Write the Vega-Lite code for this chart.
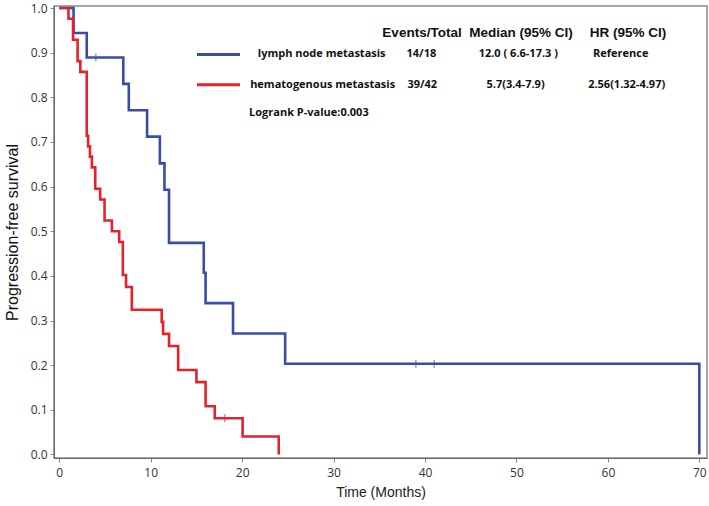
{
  "$schema": "https://vega.github.io/schema/vega-lite/v6.json",
  "width": 653,
  "height": 452,
  "autosize": {"type": "none"},
  "padding": {"left": 54, "top": 6, "right": 2, "bottom": 48},
  "background": "white",
  "config": {
    "view": {"stroke": "#8a8a8a", "strokeWidth": 1.5},
    "font": "Open Sans"
  },
  "datasets": {
    "curves": [
      {"group": "lymph node metastasis", "t": 0, "s": 1.0},
      {"group": "lymph node metastasis", "t": 1.56, "s": 0.944},
      {"group": "lymph node metastasis", "t": 3.0, "s": 0.889},
      {"group": "lymph node metastasis", "t": 7.0, "s": 0.830},
      {"group": "lymph node metastasis", "t": 7.6, "s": 0.771},
      {"group": "lymph node metastasis", "t": 9.6, "s": 0.712},
      {"group": "lymph node metastasis", "t": 11.0, "s": 0.652},
      {"group": "lymph node metastasis", "t": 11.5, "s": 0.593},
      {"group": "lymph node metastasis", "t": 12.0, "s": 0.474},
      {"group": "lymph node metastasis", "t": 15.8, "s": 0.407},
      {"group": "lymph node metastasis", "t": 16.0, "s": 0.339},
      {"group": "lymph node metastasis", "t": 19.0, "s": 0.271},
      {"group": "lymph node metastasis", "t": 24.7, "s": 0.203},
      {"group": "lymph node metastasis", "t": 70.0, "s": 0.0},
      {"group": "hematogenous metastasis", "t": 0, "s": 1.0},
      {"group": "hematogenous metastasis", "t": 1.0, "s": 0.976},
      {"group": "hematogenous metastasis", "t": 1.5, "s": 0.929},
      {"group": "hematogenous metastasis", "t": 2.0, "s": 0.881},
      {"group": "hematogenous metastasis", "t": 2.3, "s": 0.857},
      {"group": "hematogenous metastasis", "t": 3.0, "s": 0.714},
      {"group": "hematogenous metastasis", "t": 3.15, "s": 0.690},
      {"group": "hematogenous metastasis", "t": 3.35, "s": 0.667},
      {"group": "hematogenous metastasis", "t": 3.56, "s": 0.643},
      {"group": "hematogenous metastasis", "t": 3.93, "s": 0.595},
      {"group": "hematogenous metastasis", "t": 4.47, "s": 0.571},
      {"group": "hematogenous metastasis", "t": 4.95, "s": 0.524},
      {"group": "hematogenous metastasis", "t": 5.75, "s": 0.500},
      {"group": "hematogenous metastasis", "t": 6.55, "s": 0.476},
      {"group": "hematogenous metastasis", "t": 6.95, "s": 0.402},
      {"group": "hematogenous metastasis", "t": 7.3, "s": 0.375},
      {"group": "hematogenous metastasis", "t": 7.93, "s": 0.324},
      {"group": "hematogenous metastasis", "t": 11.2, "s": 0.297},
      {"group": "hematogenous metastasis", "t": 11.35, "s": 0.270},
      {"group": "hematogenous metastasis", "t": 12.0, "s": 0.243},
      {"group": "hematogenous metastasis", "t": 13.0, "s": 0.189},
      {"group": "hematogenous metastasis", "t": 15.0, "s": 0.162},
      {"group": "hematogenous metastasis", "t": 16.0, "s": 0.108},
      {"group": "hematogenous metastasis", "t": 17.0, "s": 0.081},
      {"group": "hematogenous metastasis", "t": 20.05, "s": 0.040},
      {"group": "hematogenous metastasis", "t": 24.0, "s": 0.0}
    ],
    "censors": [
      {"group": "lymph node metastasis", "t": 4.0, "s": 0.889},
      {"group": "lymph node metastasis", "t": 39.0, "s": 0.203},
      {"group": "lymph node metastasis", "t": 41.0, "s": 0.203},
      {"group": "hematogenous metastasis", "t": 18.1, "s": 0.081}
    ],
    "legendLines": [
      {"group": "lymph node metastasis", "t1": 15.06, "t2": 19.76, "s": 0.896},
      {"group": "hematogenous metastasis", "t1": 15.06, "t2": 19.76, "s": 0.828}
    ],
    "header": [
      {"label": "Events/Total", "t": 39.67, "s": 0.945},
      {"label": "Median (95% CI)", "t": 50.5, "s": 0.945},
      {"label": "HR (95% CI)", "t": 62.2, "s": 0.945}
    ],
    "rows": [
      {"label": "lymph node metastasis", "t": 28.7, "s": 0.896},
      {"label": "14/18", "t": 39.6, "s": 0.896},
      {"label": "12.0 ( 6.6-17.3 )", "t": 50.2, "s": 0.896},
      {"label": "Reference", "t": 61.4, "s": 0.896},
      {"label": "hematogenous metastasis", "t": 28.8, "s": 0.828},
      {"label": "39/42", "t": 39.7, "s": 0.828},
      {"label": "5.7(3.4-7.9)", "t": 49.9, "s": 0.828},
      {"label": "2.56(1.32-4.97)", "t": 62.05, "s": 0.828}
    ],
    "note": [
      {"label": "Logrank P-value:0.003", "t": 20.75, "s": 0.765}
    ]
  },
  "layer": [
    {
      "data": {"name": "curves"},
      "mark": {"type": "line", "interpolate": "step-after", "strokeWidth": 2.6},
      "encoding": {
        "x": {
          "field": "t", "type": "quantitative",
          "scale": {"domain": [-0.58, 70.84], "nice": false, "zero": false},
          "axis": {
            "title": "Time (Months)", "values": [0, 10, 20, 30, 40, 50, 60, 70],
            "grid": false, "domainColor": "#666", "tickColor": "#888", "tickSize": 4,
            "labelFont": "Open Sans", "labelFontSize": 12, "labelColor": "#333", "labelPadding": 5,
            "titleFont": "Liberation Sans", "titleFontSize": 14, "titleFontWeight": "normal", "titleColor": "#222", "titlePadding": 7
          }
        },
        "y": {
          "field": "s", "type": "quantitative",
          "scale": {"domain": [-0.008, 1.0045], "nice": false, "zero": false},
          "axis": {
            "title": "Progression-free survival", "values": [0, 0.1, 0.2, 0.3, 0.4, 0.5, 0.6, 0.7, 0.8, 0.9, 1.0],
            "format": ".1f", "grid": false, "domainColor": "#666", "tickColor": "#888", "tickSize": 4,
            "labelFont": "Open Sans", "labelFontSize": 12, "labelColor": "#333", "labelPadding": 3,
            "titleFont": "Liberation Sans", "titleFontSize": 16, "titleFontWeight": "normal", "titleColor": "#111", "titlePadding": 10
          }
        },
        "color": {
          "field": "group", "type": "nominal",
          "scale": {"domain": ["lymph node metastasis", "hematogenous metastasis"], "range": ["#3A4DA6", "#E5222B"]},
          "legend": null
        }
      }
    },
    {
      "data": {"name": "censors"},
      "mark": {"type": "tick", "orient": "vertical", "size": 8, "thickness": 1, "opacity": 0.8},
      "encoding": {
        "x": {"field": "t", "type": "quantitative"},
        "y": {"field": "s", "type": "quantitative"},
        "color": {"field": "group", "type": "nominal", "legend": null}
      }
    },
    {
      "data": {"name": "legendLines"},
      "mark": {"type": "rule", "strokeWidth": 3},
      "encoding": {
        "x": {"field": "t1", "type": "quantitative"},
        "x2": {"field": "t2"},
        "y": {"field": "s", "type": "quantitative"},
        "color": {"field": "group", "type": "nominal", "legend": null}
      }
    },
    {
      "data": {"name": "header"},
      "mark": {"type": "text", "font": "Liberation Sans", "fontWeight": "bold", "fontSize": 13.5, "align": "center", "baseline": "middle", "color": "#111"},
      "encoding": {
        "x": {"field": "t", "type": "quantitative"},
        "y": {"field": "s", "type": "quantitative"},
        "text": {"field": "label"}
      }
    },
    {
      "data": {"name": "rows"},
      "mark": {"type": "text", "font": "Open Sans", "fontWeight": "bold", "fontSize": 11, "align": "center", "baseline": "middle", "color": "#111"},
      "encoding": {
        "x": {"field": "t", "type": "quantitative"},
        "y": {"field": "s", "type": "quantitative"},
        "text": {"field": "label"}
      }
    },
    {
      "data": {"name": "note"},
      "mark": {"type": "text", "font": "Open Sans", "fontWeight": "bold", "fontSize": 11, "align": "left", "baseline": "middle", "color": "#111"},
      "encoding": {
        "x": {"field": "t", "type": "quantitative"},
        "y": {"field": "s", "type": "quantitative"},
        "text": {"field": "label"}
      }
    }
  ]
}
